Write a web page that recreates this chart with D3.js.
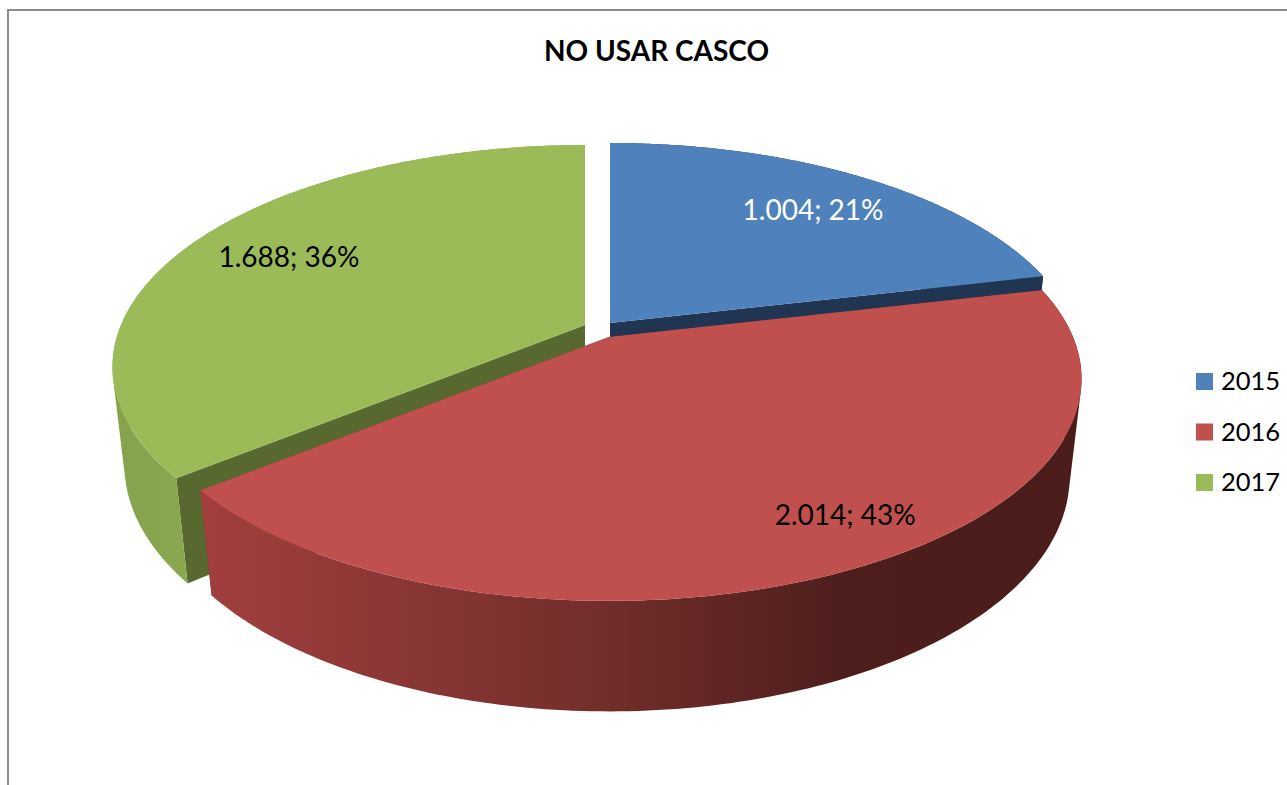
<!DOCTYPE html>
<html>
<head>
<meta charset="utf-8">
<script src="https://cdn.jsdelivr.net/npm/d3@7"></script>
<style>
    html, body { margin: 0; padding: 0; background: #fff; overflow: hidden; }
    svg { display: block; }
    text { font-family: Lato, "Open Sans", sans-serif; }
</style>
</head>
<body>
<div id="graph"></div>
<script>
// Chart values
const chartTitle = "NO USAR CASCO";
const years = ["2015", "2016", "2017"];
const counts = [1004, 2014, 1688];
const countLabels = ["1.004", "2.014", "1.688"];
const percentLabels = ["21%", "43%", "36%"];

const width = 1287;
const height = 785;

// Projection of the tilted pie: u, v on the unit disc, z = 0 top face, z = 1 bottom face
const view = { rx: 464, ry: 214, depth: 99, tilt: 0.189, sink: 0.025 };

function project(centre, u, v, z) {
    const s = 1 / (1 - view.tilt * v + view.sink * z);
    return [centre[0] + view.rx * u * s, centre[1] + (view.ry * v + view.depth * z) * s];
}

function rim(centre, angle, z, r = 1) {
    return project(centre, r * Math.sin(angle), -r * Math.cos(angle), z);
}

// Per slice styling, in the order of the years. Wall shading runs left to right across the page
const sliceStyle = [
    {
        centre: [610, 323], top: "#4f81bd", cut: "#1f3552", labelColor: "#fff",
        labelRadius: 0.759, labelShift: 1.4,
        wallX: [0, 1287], wallColors: ["#1f3552", "#1f3552"]
    },
    {
        centre: [609, 337], top: "#c0504d", cut: "#7a2f2d", labelColor: "#000",
        labelRadius: 0.843, labelShift: -5.3,
        wallX: [212, 400, 600, 850, 1075], wallColors: ["#a03f3d", "#8a3735", "#732e2b", "#4d1e1c", "#4a1c1a"]
    },
    {
        centre: [585, 325], top: "#9bbb59", cut: "#57692f", labelColor: "#000",
        labelRadius: 0.757, labelShift: 0.9,
        wallX: [115, 190], wallColors: ["#85a24c", "#8aa850"]
    }
];

const svg = d3.select("#graph").append("svg")
    .attr("width", width)
    .attr("height", height);

const defs = svg.append("defs");

sliceStyle.forEach((style, i) => {
    const span = d3.scaleLinear().domain(d3.extent(style.wallX)).range([0, 100]);
    defs.append("linearGradient")
        .attr("id", "wall-" + i)
        .attr("gradientUnits", "userSpaceOnUse")
        .attr("x1", style.wallX[0]).attr("y1", 0)
        .attr("x2", style.wallX[style.wallX.length - 1]).attr("y2", 0)
        .selectAll("stop").data(style.wallX).join("stop")
        .attr("offset", d => span(d) + "%")
        .attr("stop-color", (d, j) => style.wallColors[j]);
});

// Chart frame, only its top and left edges fall inside the page
svg.append("rect")
    .attr("x", 8).attr("y", 10)
    .attr("width", width + 40).attr("height", height + 40)
    .attr("fill", "#fff")
    .attr("stroke", "#8c8c8c")
    .attr("stroke-width", 2);

svg.append("text")
    .attr("x", 656.5).attr("y", 61)
    .attr("text-anchor", "middle")
    .attr("font-size", 28)
    .attr("font-weight", 700)
    .text(chartTitle);

const pie = d3.pie().sort(null)(counts);
const line = d3.line();
const pieG = svg.append("g");

// Back slices first: red sits in front of both others
[0, 2, 1].forEach(i => {
    const slice = pie[i];
    const style = sliceStyle[i];
    const c = style.centre;
    const g = pieG.append("g").attr("class", "slice-" + years[i]);
    const a0 = slice.startAngle;
    const a1 = slice.endAngle;
    const angles = d3.range(0, 161).map(t => a0 + (a1 - a0) * t / 160);

    // Cut walls go under the outer wall, which hides the ones facing away
    [a1, a0].forEach(a => {
        g.append("path")
            .attr("d", line([project(c, 0, 0, 0), rim(c, a, 0), rim(c, a, 1), project(c, 0, 0, 1)]) + "Z")
            .attr("fill", style.cut);
    });

    // Outer wall: strips in one path, all wound the same way so that overlaps stay filled
    const strips = d3.pairs(angles).map(([p, q]) => {
        const quad = [rim(c, p, 0), rim(c, q, 0), rim(c, q, 1), rim(c, p, 1)];
        return line(d3.polygonArea(quad) < 0 ? quad.reverse() : quad) + "Z";
    });
    g.append("path")
        .attr("d", strips.join(""))
        .attr("fill", `url(#wall-${i})`);

    // Top face
    const topPts = [project(c, 0, 0, 0)].concat(angles.map(a => rim(c, a, 0)));
    g.append("path")
        .attr("d", line(topPts) + "Z")
        .attr("fill", style.top);
});

// Data labels sit on the top faces
pie.forEach((slice, i) => {
    const style = sliceStyle[i];
    const mid = (slice.startAngle + slice.endAngle) / 2 + style.labelShift * Math.PI / 180;
    const pos = rim(style.centre, mid, 0, style.labelRadius);
    svg.append("text")
        .attr("x", pos[0]).attr("y", pos[1])
        .attr("dy", "0.35em")
        .attr("text-anchor", "middle")
        .attr("font-size", 28)
        .attr("fill", style.labelColor)
        .text(countLabels[i] + "; " + percentLabels[i]);
});

// Legend
const legendY = d3.scalePoint().domain(years).range([381.5, 482.5]);
const legend = svg.selectAll("g.legend").data(years).join("g")
    .attr("class", "legend")
    .attr("transform", d => `translate(1196, ${legendY(d)})`);

legend.append("rect")
    .attr("y", -8.5)
    .attr("width", 17).attr("height", 17)
    .attr("fill", (d, i) => sliceStyle[i].top);

legend.append("text")
    .attr("x", 25)
    .attr("dy", "0.35em")
    .attr("font-size", 25.5)
    .text(d => d);
</script>
</body>
</html>
